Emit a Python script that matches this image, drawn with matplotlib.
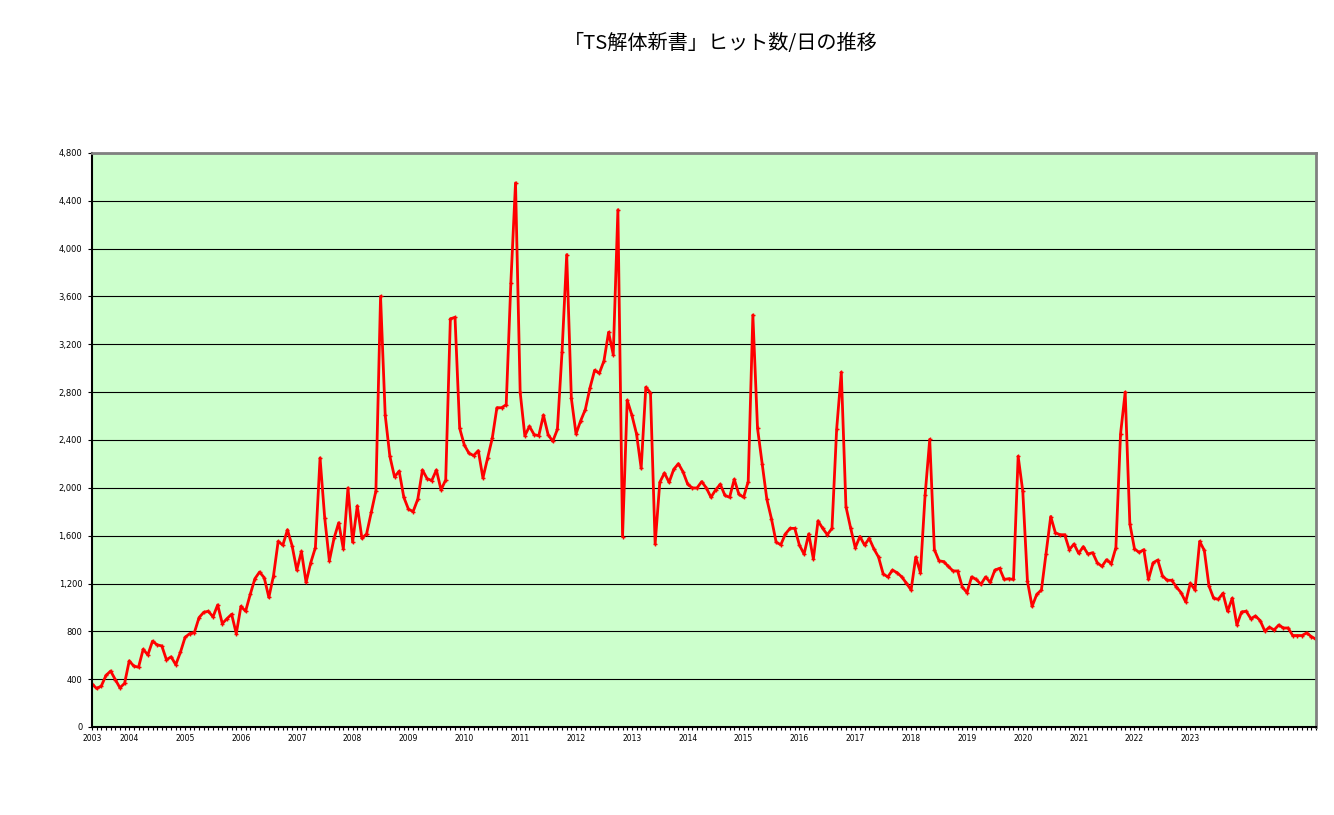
import numpy as np
import matplotlib
matplotlib.use("Agg")
from matplotlib import pyplot as plt
from matplotlib.ticker import FuncFormatter, MultipleLocator

plt.rcParams['font.family'] = ['Noto Sans CJK JP', 'DejaVu Sans']

# Monthly hits per day, first point = May 2003
hits = [
    360, 322, 343, 431, 468, 397, 328, 365,
    553, 509, 500, 650, 603, 718, 687, 678, 562, 587, 521, 625,
    750, 781, 790, 915, 959, 968, 921, 1021, 865, 906, 943, 781,
    1009, 968, 1109, 1240, 1296, 1249, 1084, 1265, 1552, 1521, 1649, 1515,
    1312, 1468, 1209, 1374, 1500, 2250, 1749, 1390, 1577, 1708, 1490, 1999,
    1546, 1849, 1577, 1615, 1796, 1974, 3601, 2608, 2264, 2092, 2139, 1921,
    1821, 1802, 1905, 2149, 2077, 2061, 2149, 1983, 2067, 3413, 3426, 2498,
    2358, 2289, 2270, 2311, 2083, 2249, 2414, 2670, 2670, 2695, 3716, 4550,
    2800, 2436, 2514, 2445, 2436, 2608, 2445, 2389, 2489, 3140, 3950, 2748,
    2451, 2561, 2655, 2836, 2983, 2958, 3061, 3301, 3114, 4325, 1593, 2733,
    2608, 2451, 2164, 2842, 2795, 1530, 2046, 2124, 2046, 2155, 2202, 2133,
    2030, 1999, 1999, 2052, 1999, 1921, 1983, 2030, 1936, 1921, 2071, 1946,
    1921, 2052, 3445, 2498, 2202, 1905, 1740, 1546, 1524, 1615, 1661, 1661,
    1521, 1446, 1615, 1405, 1724, 1661, 1608, 1661, 2489, 2967, 1843, 1665,
    1499, 1593, 1521, 1577, 1490, 1421, 1280, 1255, 1312, 1290, 1255, 1202,
    1146, 1421, 1290, 1936, 2405, 1483, 1390, 1383, 1343, 1305, 1305, 1171,
    1124, 1255, 1234, 1193, 1255, 1209, 1312, 1327, 1234, 1240, 1234, 2264,
    1970, 1218, 1009, 1109, 1146, 1450, 1760, 1624, 1608, 1608, 1483, 1530,
    1452, 1508, 1446, 1458, 1374, 1343, 1399, 1365, 1500, 2450, 2800, 1700,
    1490, 1460, 1483, 1234, 1374, 1396, 1265, 1227, 1227, 1171, 1124, 1046,
    1202, 1146, 1552, 1477, 1180, 1077, 1068, 1118, 968, 1077, 853, 962,
    968, 906, 928, 890, 803, 834, 812, 853, 828, 828, 765, 765,
    765, 787, 756, 734,
]
years = [str(y) for y in range(2003, 2024)]
first_month = 5  # May 2003

title = '「TS解体新書」ヒット数/日の推移'

x = np.arange(len(hits))
# index of the first point, then January of every following year
year_pos = [0] + [(int(y) - 2003) * 12 - (first_month - 1) for y in years[1:]]

fig = plt.figure(figsize=(13.34, 8.15), dpi=100)
ax = fig.add_axes([92 / 1334, 88 / 815, 1224 / 1334, 574 / 815])
ax.set_facecolor('#CCFFCC')

ax.plot(x, hits, color='#FF0000', lw=2, marker='+', ms=3, mew=1)

ax.set_xlim(0, len(hits) - 1)
ax.set_ylim(0, 4800)
ax.yaxis.set_major_locator(MultipleLocator(400))
ax.yaxis.set_major_formatter(FuncFormatter(lambda v, p: f'{int(v):,}'))
ax.grid(axis='y', color='black', lw=0.8)
ax.set_axisbelow(True)

ax.set_xticks(year_pos)
ax.set_xticklabels(years, fontsize=5.5, family='DejaVu Sans')
ax.xaxis.set_minor_locator(MultipleLocator(1))
ax.tick_params(axis='x', which='both', direction='out', length=2, width=0.8, pad=3)
ax.tick_params(axis='y', direction='out', length=3, width=0.8, labelsize=6, pad=4)
for lab in ax.get_yticklabels():
    lab.set_family('DejaVu Sans')

for side in ['left', 'bottom']:
    ax.spines[side].set_color('black')
    ax.spines[side].set_linewidth(1.5)
for side in ['top', 'right']:
    ax.spines[side].set_color('#808080')
    ax.spines[side].set_linewidth(2)

fig.text(721 / 1334, 1 - 43 / 815, title, ha='center', va='center', fontsize=14.5)

fig.savefig('out.png', dpi=100, facecolor='white')
